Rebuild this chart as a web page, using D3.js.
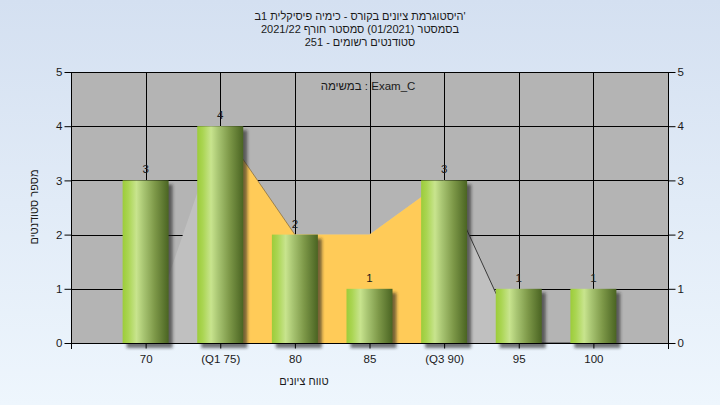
<!DOCTYPE html>
<html><head><meta charset="utf-8">
<script src="https://cdn.jsdelivr.net/npm/d3@7"></script>
<style>
html,body{margin:0;padding:0;}
svg{display:block;}
text{font-family:"Liberation Sans","DejaVu Sans",Arial,sans-serif;}
</style></head>
<body>
<script>
const categories = ["70", "(Q1 75)", "80", "85", "(Q3 90)", "95", "100"];
const counts = [3, 4, 2, 1, 3, 1, 1];
const areaValues = [0, 4, 2, 2, 3, 0, 0];
const q1Index = 1, q3Index = 4;
const yTicks = [0, 1, 2, 3, 4, 5];
const titleLines = ["'היסטוגרמת ציונים בקורס - כימיה פיסיקלית 1ב", "בסמסטר (01/2021) סמסטר חורף 2021/22", "סטודנטים רשומים - 251"];
const annotation = "במשימה : Exam_C";
const yTitle = "מספר סטודנטים";
const xTitle = "טווח ציונים";

(function(){
const W = 720, H = 405;
const mL = 71, mR = 668, mT = 72, mB = 343;

const svg = d3.select("body").append("svg").attr("width", W).attr("height", H);
const defs = svg.append("defs");
const bg = defs.append("linearGradient").attr("id","bg").attr("x1",0).attr("y1",0).attr("x2",0).attr("y2",1);
bg.append("stop").attr("offset","0%").attr("stop-color","#d4e0f1");
bg.append("stop").attr("offset","100%").attr("stop-color","#eef6fd");
const bar = defs.append("linearGradient").attr("id","bar").attr("x1",0).attr("y1",0).attr("x2",1).attr("y2",0);
[["0%","#9ccc3a"],["12%","#aad552"],["30%","#c8e48e"],["45%","#a9c673"],["70%","#7d9848"],["100%","#4a6422"]].forEach(s=>bar.append("stop").attr("offset",s[0]).attr("stop-color",s[1]));
const blur = defs.append("filter").attr("id","sh").attr("x","-30%").attr("y","-30%").attr("width","160%").attr("height","160%");
blur.append("feGaussianBlur").attr("stdDeviation",1.6);

svg.append("rect").attr("width",W).attr("height",H).attr("fill","url(#bg)");

const x = d3.scaleLinear().domain([0, categories.length + 1]).range([mL, mR]);
const y = d3.scaleLinear().domain([0, 5]).range([mB, mT]);

svg.append("rect").attr("x",mL).attr("y",mT).attr("width",mR-mL).attr("height",mB-mT).attr("fill","#b4b4b4");

const g = svg.append("g");
g.selectAll("line.h").data(yTicks).join("line")
  .attr("x1",mL).attr("x2",mR).attr("y1",d=>Math.round(y(d))+0.5).attr("y2",d=>Math.round(y(d))+0.5)
  .attr("stroke","#000").attr("stroke-width",1);
g.selectAll("line.v").data(categories).join("line")
  .attr("x1",(d,i)=>Math.round(x(i+1))+0.5).attr("x2",(d,i)=>Math.round(x(i+1))+0.5)
  .attr("y1",mT).attr("y2",mB).attr("stroke","#000").attr("stroke-width",1);

const pts = areaValues.map((v,i)=>({i, v}));
const area = d3.area().x(d=>x(d.i+1)).y0(y(0)).y1(d=>y(d.v));
svg.append("path").datum(pts).attr("d",area).attr("fill","#c0c0c0");
svg.append("path").datum(pts.filter(d=>d.i>=q1Index && d.i<=q3Index)).attr("d",area).attr("fill","#ffcb58");
const line = d3.line().x(d=>x(d.i+1)).y(d=>y(d.v));
svg.append("path").datum(pts.filter(d=>d.i>=q3Index)).attr("d",line).attr("fill","none").attr("stroke","#3a3a3a").attr("stroke-width",1);
svg.append("path").datum(pts.filter(d=>d.i>=q1Index && d.i<=q1Index+1)).attr("d",line).attr("fill","none").attr("stroke","#8a7040").attr("stroke-width",0.8);

const bw = 46;
const bars = svg.append("g");
bars.selectAll("rect.sh").data(counts).join("rect").attr("class","sh")
  .attr("x",(d,i)=>x(i+1)-bw/2+4).attr("y",d=>y(d)+4).attr("width",bw).attr("height",d=>y(0)-y(d)+1)
  .attr("fill","rgba(30,30,30,0.6)").attr("filter","url(#sh)");
bars.selectAll("rect.b").data(counts).join("rect").attr("class","b")
  .attr("x",(d,i)=>x(i+1)-bw/2).attr("y",d=>y(d)).attr("width",bw).attr("height",d=>y(0)-y(d))
  .attr("fill","url(#bar)");
bars.selectAll("text").data(counts).join("text")
  .attr("x",(d,i)=>x(i+1)).attr("y",d=>y(d)-7).attr("text-anchor","middle")
  .attr("font-size",11.5).attr("fill","#1a1a1a").text(d=>d);

const axL = d3.axisLeft(y).tickValues(yTicks).tickSize(7).tickPadding(2).tickFormat(d3.format("d"));
const axR = d3.axisRight(y).tickValues(yTicks).tickSize(7).tickPadding(2).tickFormat(d3.format("d"));
const axB = d3.axisBottom(x).tickValues(categories.map((c,i)=>i+1)).tickSize(5).tickPadding(6).tickFormat(d=>categories[d-1]);
function style(sel){
  sel.selectAll("text").attr("font-size",11.5).attr("fill","#1a1a1a").style("font-family",'"Liberation Sans","DejaVu Sans",Arial,sans-serif');
  sel.selectAll("line").attr("stroke","#000");
  sel.select(".domain").attr("stroke","#000");
}
svg.append("g").attr("transform",`translate(${mL+0.5},0)`).call(axL).call(style).call(s=>s.select(".domain").attr("d",`M0,${mT}V${mB+6}`));
svg.append("g").attr("transform",`translate(${mR+0.5},0)`).call(axR).call(style).call(s=>s.select(".domain").attr("d",`M0,${mT}V${mB+6}`));
svg.append("g").attr("transform",`translate(0,${mB+0.5})`).call(axB).call(style).call(s=>s.select(".domain").attr("d",`M${mL},0H${mR}`));

svg.append("g").selectAll("text").data(titleLines).join("text")
  .attr("x",360).attr("y",(d,i)=>20+i*13).attr("text-anchor","middle").attr("direction","rtl")
  .attr("font-size",11).attr("fill","#1a1a1a").text(d=>d);
svg.append("text").attr("x",368).attr("y",90).attr("text-anchor","middle").attr("direction","ltr")
  .attr("font-size",11.5).attr("fill","#1a1a1a").text(annotation);
svg.append("text").attr("transform","translate(38,207) rotate(-90)").attr("text-anchor","middle")
  .attr("font-size",11).attr("fill","#1a1a1a").text(yTitle);
svg.append("text").attr("x",304).attr("y",385).attr("text-anchor","middle")
  .attr("font-size",11).attr("fill","#1a1a1a").text(xTitle);
})();
</script>
</body></html>
